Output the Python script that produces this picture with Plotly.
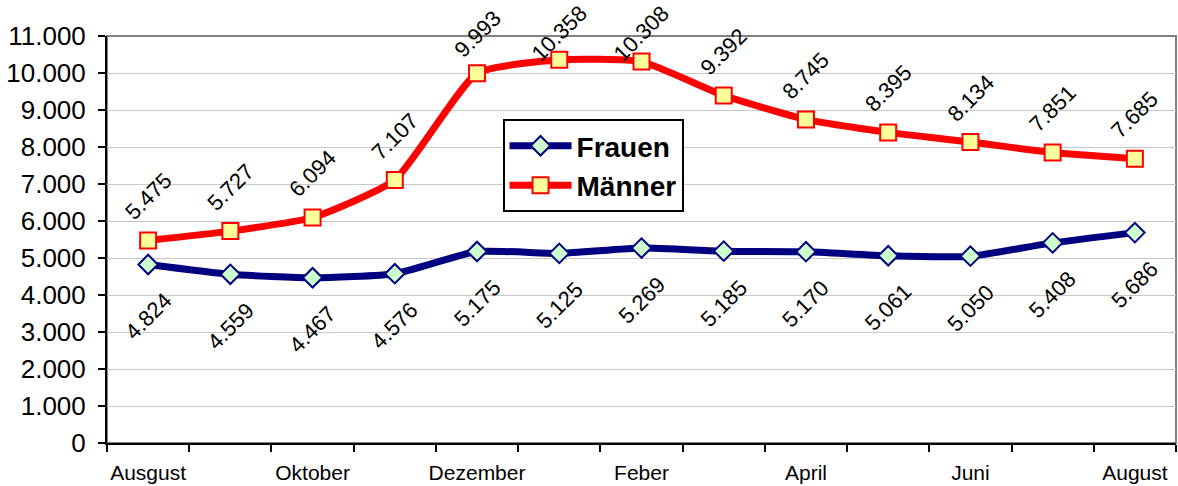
import plotly.graph_objects as go

# Monatsdaten
months = ['Ausgust', 'September', 'Oktober', 'November', 'Dezember', 'Jänner',
          'Feber', 'März', 'April', 'Mai', 'Juni', 'Juli', 'August']
frauen = [4824, 4559, 4467, 4576, 5175, 5125, 5269, 5185, 5170, 5061, 5050, 5408, 5686]
maenner = [5475, 5727, 6094, 7107, 9993, 10358, 10308, 9392, 8745, 8395, 8134, 7851, 7685]
y_ticks = list(range(0, 11001, 1000))

xpos = list(range(len(months)))
font_family = "Liberation Sans, Arial, sans-serif"

W, H = 1178, 486
M_L, M_R, M_T, M_B = 107, 2, 36, 43
Y_MAX = 11000


def fmt(v):
    return f"{v:,}".replace(",", ".")


fig = go.Figure()

fig.add_trace(go.Scatter(
    x=xpos, y=frauen, name='Frauen', mode='lines+markers',
    line=dict(color='#000080', width=7, shape='spline', smoothing=0.5),
    marker=dict(symbol='diamond', size=15, color='#CCFFCC',
                line=dict(color='#000080', width=2)),
))
fig.add_trace(go.Scatter(
    x=xpos, y=maenner, name='Männer', mode='lines+markers',
    line=dict(color='#FF0000', width=7, shape='spline', smoothing=0.5),
    marker=dict(symbol='square', size=16, color='#FFFF99',
                line=dict(color='#FF0000', width=2)),
))

# Datenbeschriftungen (gedreht); oben wie in Excel im Diagrammbereich gehalten
plot_h = H - M_T - M_B
annotations = []
for i, v in enumerate(maenner):
    py = M_T + (1 - v / Y_MAX) * plot_h
    shift = min(44, py - 34)
    annotations.append(dict(x=xpos[i], y=v, text=fmt(v), textangle=-45,
                            showarrow=False, yshift=shift,
                            font=dict(family=font_family, size=22, color='black')))
for i, v in enumerate(frauen):
    annotations.append(dict(x=xpos[i], y=v, text=fmt(v), textangle=-45,
                            showarrow=False, yshift=-52,
                            font=dict(family=font_family, size=22, color='black')))

fig.update_layout(
    width=W, height=H,
    margin=dict(l=M_L, r=M_R, t=M_T, b=M_B),
    paper_bgcolor='white', plot_bgcolor='white',
    font=dict(family=font_family, color='black'),
    annotations=annotations,
    showlegend=True,
    legend=dict(x=0.37, y=0.796, xanchor='left', yanchor='top',
                bordercolor='black', borderwidth=2, bgcolor='white',
                font=dict(size=28, weight='bold', family=font_family),
                itemwidth=62, tracegroupgap=0),
    shapes=[dict(type='rect', xref='paper', yref='paper', x0=0, x1=1, y0=0, y1=1,
                 line=dict(color='#808080', width=2), layer='below')],
)

fig.update_xaxes(
    range=[-0.5, len(months) - 0.5],
    tickvals=xpos[::2], ticktext=months[::2],
    ticks='outside', ticklen=0,
    minor=dict(tickvals=[p - 0.5 for p in xpos] + [len(months) - 0.5],
               ticks='outside', ticklen=7, tickwidth=2, tickcolor='black', showgrid=False),
    showline=True, linecolor='black', linewidth=2,
    showgrid=False, zeroline=False, automargin=False,
    tickfont=dict(size=21), ticklabelstandoff=10,
)
fig.update_yaxes(
    range=[0, Y_MAX], tickvals=y_ticks, ticktext=[fmt(t) for t in y_ticks],
    ticks='outside', ticklen=7, tickwidth=2, tickcolor='black',
    showline=True, linecolor='black', linewidth=2,
    showgrid=True, gridcolor='#C8C8C8', gridwidth=1, zeroline=False, automargin=False,
    tickfont=dict(size=26), ticklabelstandoff=7,
)

fig.write_html("out.html", config={'displayModeBar': False},
               post_script="document.body.style.margin='0';")
